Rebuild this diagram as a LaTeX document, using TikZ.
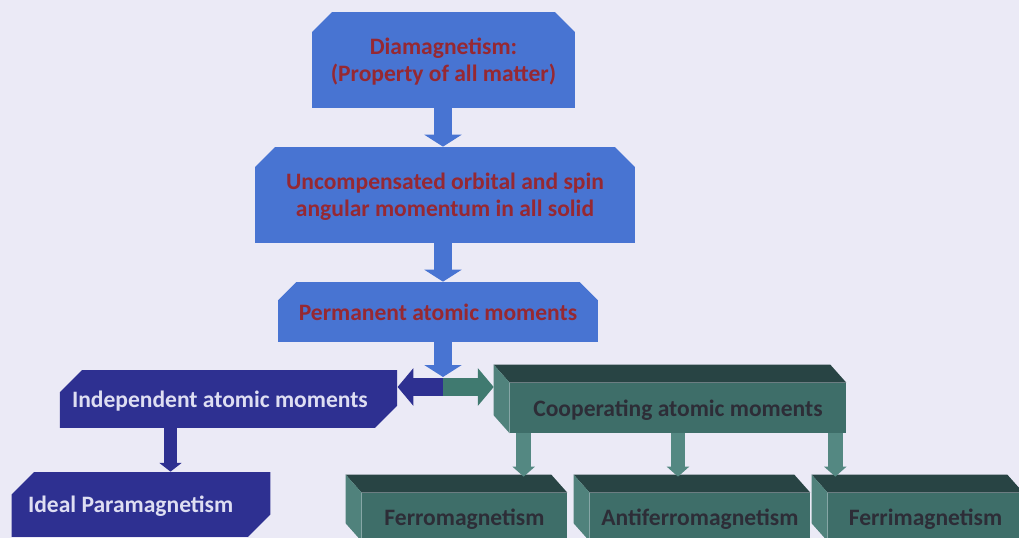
\documentclass[tikz,border=0pt]{standalone}
\usepackage{fontspec}
\setmainfont{Carlito}
\usetikzlibrary{shapes.misc,arrows.meta,calc}

\definecolor{bgpaper}{RGB}{235,234,246}
\definecolor{boxblue}{RGB}{72,116,210}
\definecolor{inkred}{RGB}{150,40,50}
\definecolor{indigobox}{RGB}{46,48,145}
\definecolor{paleink}{RGB}{222,222,242}
\definecolor{tealfront}{RGB}{62,110,105}
\definecolor{tealtop}{RGB}{40,68,68}
\definecolor{tealside}{RGB}{80,130,124}
\definecolor{tealarrow}{RGB}{84,136,130}
\definecolor{tealhalf}{RGB}{64,122,112}
\definecolor{tealink}{RGB}{45,45,55}

\tikzset{
  boxfont/.style={font=\fontsize{13.4}{15.6}\selectfont\bfseries},
  bluebox/.style={boxfont, chamfered rectangle, chamfered rectangle corners={north west,north east},
    chamfered rectangle xsep=5.7pt, chamfered rectangle ysep=5.7pt,
    fill=boxblue, text=inkred, align=center, inner sep=0pt, text depth=0pt},
  indigo/.style={boxfont, chamfered rectangle, chamfered rectangle corners={north west,south east},
    chamfered rectangle xsep=8pt, chamfered rectangle ysep=8pt,
    fill=indigobox, text=paleink, align=flush left, inner ysep=0pt, text depth=0pt},
  cubebox/.style={boxfont, rectangle, fill=tealfront, text=tealink, inner sep=0pt, text depth=0pt},
  bluearrow/.style={draw=boxblue, line width=10.8pt, -{Triangle[length=6.8pt,width=21pt]}},
  indigoarrow/.style={draw=indigobox, line width=7.9pt, -{Triangle[length=5pt,width=12.5pt]}},
  tealdown/.style={draw=tealarrow, line width=8.5pt, -{Triangle[length=5.7pt,width=12.5pt]}},
  halfarrow/.style={line width=10.8pt, -{Triangle[length=9pt,width=21pt]}}
}

\begin{document}
\begin{tikzpicture}[x=0.02cm,y=-0.02cm]
\useasboundingbox (0,0) rectangle (1019,538);
\clip (0,0) rectangle (1019,538);
\fill[bgpaper] (0,0) rectangle (1019,538);

\node[bluebox, minimum width=5.26cm, minimum height=1.92cm] (dia) at (443.5,60)
  {Diamagnetism:\\(Property of all matter)};
\node[bluebox, minimum width=7.6cm, minimum height=1.92cm] (unc) at (445,195)
  {Uncompensated orbital and spin\\angular momentum in all solid};
\node[bluebox, minimum width=6.4cm, minimum height=1.2cm] (perm) at (438,312)
  {Permanent atomic moments};

\node[indigo, inner xsep=0.08cm, text width=6.26cm, minimum height=1.16cm] (indep) at (228.5,399)
  {Independent atomic moments};
\node[indigo, inner xsep=0.16cm, text width=4.52cm, minimum height=1.3cm] (ideal) at (141,504.5)
  {Ideal Paramagnetism};

\node[cubebox, minimum width=6.72cm, minimum height=1cm] (coop) at (678,408) {Cooperating atomic moments};
\node[cubebox, minimum width=4.1cm, minimum height=0.96cm] (ferro) at (464.5,517) {Ferromagnetism};
\node[cubebox, minimum width=4.4cm, minimum height=0.96cm] (antiferro) at (700,517) {Antiferromagnetism};
\node[cubebox, minimum width=3.9cm, minimum height=0.96cm] (ferri) at (925.5,517) {Ferrimagnetism};

\foreach \n in {coop,ferro,antiferro,ferri} {
  \fill[tealtop] (\n.north west) -- (\n.north east) -- ++(-16,-18) -- ($(\n.north west)+(-16,-18)$) -- cycle;
  \fill[tealside] (\n.north west) -- ($(\n.north west)+(-16,-18)$) -- ($(\n.south west)+(-16,-18)$) -- (\n.south west) -- cycle;
}

\coordinate (hub) at (443,387);
\draw[halfarrow, draw=indigobox] (hub) -- (hub -| indep.east);
\draw[halfarrow, draw=tealhalf] (hub) -- ($(hub -| coop.west)+(-16,0)$);

\draw[bluearrow] (dia.south -| hub) -- (unc.north -| hub);
\draw[bluearrow] (unc.south -| hub) -- (perm.north -| hub);
\draw[bluearrow, shorten >=5.7pt] (perm.south -| hub) -- (hub);

\coordinate (p1) at ($(indep.south)+(-58,0)$);
\draw[indigoarrow] (p1) -- (p1 |- ideal.north);

\coordinate (c1) at ($(coop.south west)+(14,0)$);
\coordinate (c2) at (coop.south);
\coordinate (c3) at ($(coop.south east)+(-11,0)$);
\draw[tealdown] (c1) -- ($(c1 |- ferro.north)+(0,-16)$);
\draw[tealdown] (c2) -- ($(c2 |- antiferro.north)+(0,-16)$);
\draw[tealdown] (c3) -- ($(c3 |- ferri.north)+(0,-16)$);
\end{tikzpicture}
\end{document}
